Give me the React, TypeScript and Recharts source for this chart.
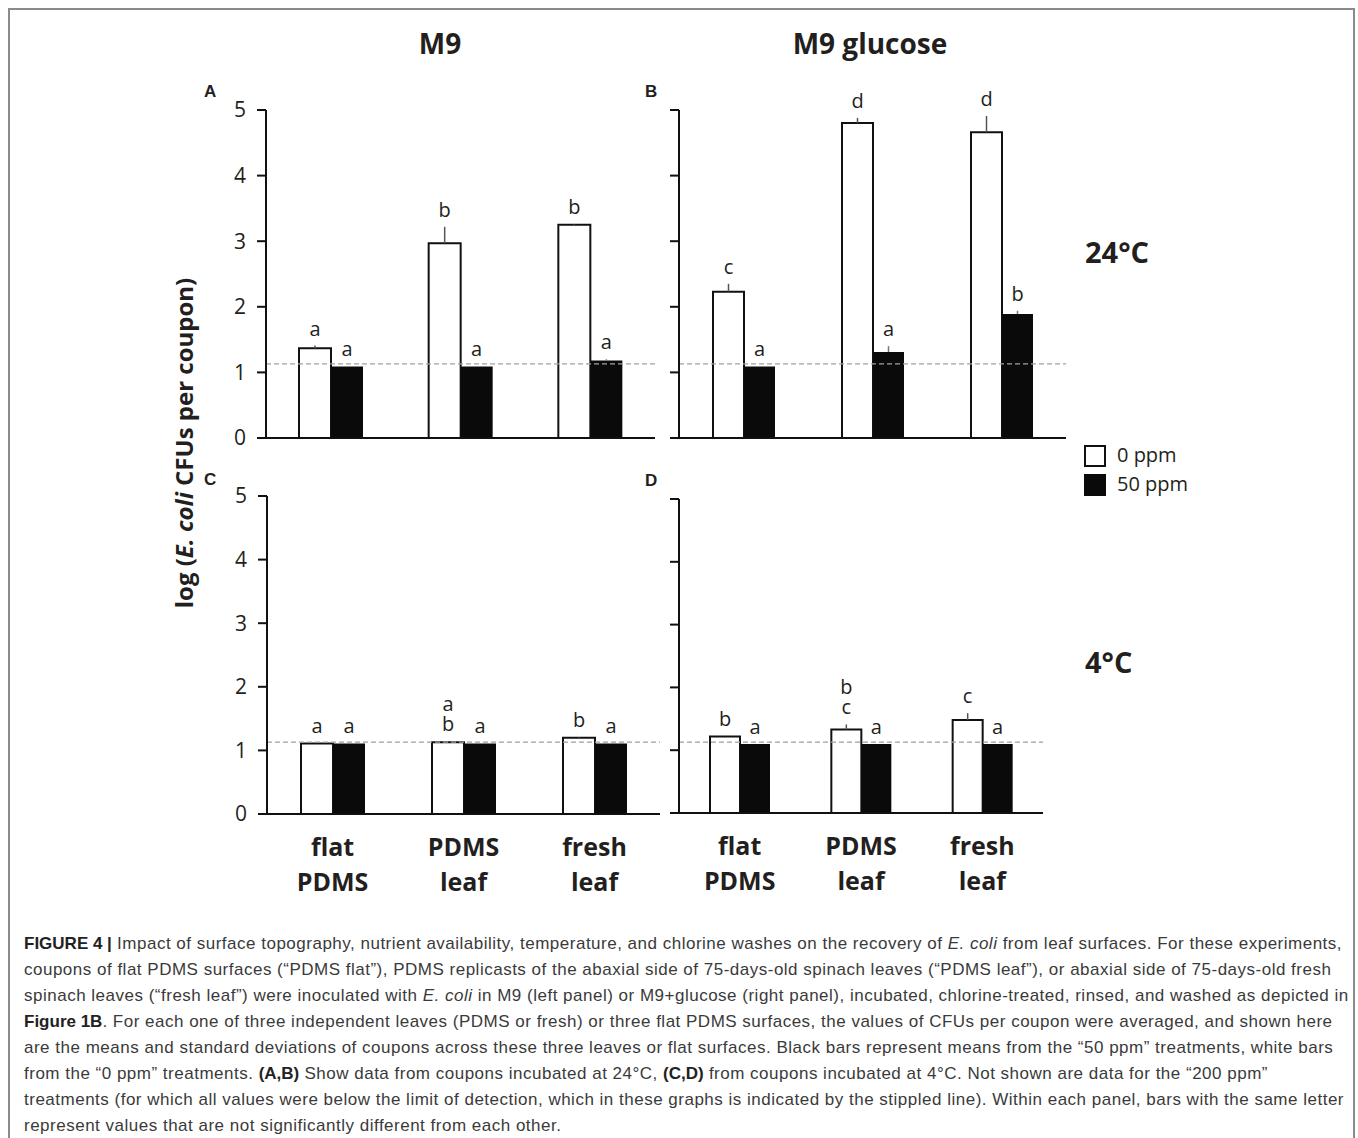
import React from 'react';
import {
  BarChart,
  Bar,
  XAxis,
  YAxis,
  ErrorBar,
  LabelList,
  ReferenceLine,
} from 'recharts';

const categories = ['flat PDMS', 'PDMS leaf', 'fresh leaf'];
const yTicks = [0, 1, 2, 3, 4, 5];
const detectionLimit = 1.13;

// A: M9, 24°C
const zeroA = [1.37, 2.97, 3.25];
const zeroAErr = [0.04, 0.25, 0.01];
const fiftyA = [1.09, 1.09, 1.18];
const fiftyAErr = [0, 0, 0.02];
const zeroALetters = ['a', 'b', 'b'];
const fiftyALetters = ['a', 'a', 'a'];

// B: M9 glucose, 24°C
const zeroB = [2.23, 4.8, 4.66];
const zeroBErr = [0.12, 0.08, 0.25];
const fiftyB = [1.09, 1.31, 1.89];
const fiftyBErr = [0, 0.09, 0.05];
const zeroBLetters = ['c', 'd', 'd'];
const fiftyBLetters = ['a', 'a', 'b'];

// C: M9, 4°C
const zeroC = [1.11, 1.13, 1.2];
const zeroCErr = [0, 0.01, 0.01];
const fiftyC = [1.11, 1.11, 1.11];
const fiftyCErr = [0, 0, 0];
const zeroCLetters = ['a', 'ab', 'b'];
const fiftyCLetters = ['a', 'a', 'a'];

// D: M9 glucose, 4°C
const zeroD = [1.22, 1.33, 1.48];
const zeroDErr = [0, 0.08, 0.11];
const fiftyD = [1.1, 1.1, 1.1];
const fiftyDErr = [0, 0, 0];
const zeroDLetters = ['b', 'bc', 'c'];
const fiftyDLetters = ['a', 'a', 'a'];

const INK = '#231f20';
const FONT = '"Open Sans", "Noto Sans", sans-serif';

function letterContent(errs: number[], pxPerUnit: number) {
  return (props: any) => {
    const { x, y, width, value, index } = props;
    if (!value) return null;
    const lines = String(value).split('');
    const err = errs[index] || 0;
    const base = Number(y) - err * pxPerUnit - 10;
    const cx = Number(x) + Number(width) / 2;
    return (
      <text textAnchor="middle" fontSize={20} fill={INK} fontFamily={FONT}>
        {lines.map((l, k) => (
          <tspan key={k} x={cx} y={base - (lines.length - 1 - k) * 20}>
            {l}
          </tspan>
        ))}
      </text>
    );
  };
}

const CategoryTick = (props: any) => {
  const { x, y, payload } = props;
  const [l1, l2] = String(payload.value).split(' ');
  return (
    <text
      textAnchor="middle"
      fontSize={25}
      fontWeight={700}
      fill={INK}
      fontFamily={FONT}
    >
      <tspan x={x} y={y + 42}>
        {l1}
      </tspan>
      <tspan x={x} y={y + 77}>
        {l2}
      </tspan>
    </text>
  );
};

interface PanelProps {
  box: { left: number; top: number; right: number; bottom: number };
  yLabels: boolean;
  xLabels: boolean;
  barSize: number;
  zero: number[];
  zeroErr: number[];
  fifty: number[];
  fiftyErr: number[];
  zeroLetters: string[];
  fiftyLetters: string[];
}

function Panel({
  box,
  yLabels,
  xLabels,
  barSize,
  zero,
  zeroErr,
  fifty,
  fiftyErr,
  zeroLetters,
  fiftyLetters,
}: PanelProps) {
  const yAxisWidth = 80;
  const topPad = 40;
  const xAxisHeight = xLabels ? 90 : 20;
  const left = box.left - yAxisWidth;
  const top = box.top - topPad;
  const width = box.right + 10 - left;
  const height = box.bottom + xAxisHeight - top;
  const pxPerUnit = (box.bottom - box.top) / 5;

  const data = categories.map((cat, i) => ({
    cat,
    zero: zero[i],
    zeroErr: [0, zeroErr[i]],
    fifty: fifty[i],
    fiftyErr: [0, fiftyErr[i]],
    zl: zeroLetters[i],
    fl: fiftyLetters[i],
  }));

  return (
    <div style={{ position: 'absolute', left, top }}>
      <BarChart
        width={width}
        height={height}
        data={data}
        barGap={0}
        margin={{ top: topPad, right: 10, left: 0, bottom: 0 }}
      >
        <XAxis
          dataKey="cat"
          height={xAxisHeight}
          interval={0}
          tickLine={false}
          tickSize={0}
          tickMargin={0}
          axisLine={{ stroke: '#111', strokeWidth: 2 }}
          tick={xLabels ? <CategoryTick /> : false}
        />
        <YAxis
          width={yAxisWidth}
          domain={[0, 5]}
          ticks={yTicks}
          interval={0}
          tickSize={9}
          tickMargin={11}
          axisLine={{ stroke: '#111', strokeWidth: 2 }}
          tickLine={{ stroke: '#111', strokeWidth: 2 }}
          tick={{ fontSize: 21, fill: INK, fontFamily: FONT }}
          tickFormatter={(v) => (yLabels ? String(v) : '')}
        />
        <Bar
          dataKey="zero"
          fill="#ffffff"
          stroke="#111"
          strokeWidth={2}
          barSize={barSize}
          isAnimationActive={false}
        >
          <ErrorBar dataKey="zeroErr" width={0} stroke="#555" strokeWidth={1.5} />
          <LabelList dataKey="zl" content={letterContent(zeroErr, pxPerUnit)} />
        </Bar>
        <Bar
          dataKey="fifty"
          fill="#0a0a0a"
          barSize={barSize}
          isAnimationActive={false}
        >
          <ErrorBar dataKey="fiftyErr" width={0} stroke="#777" strokeWidth={1.5} />
          <LabelList dataKey="fl" content={letterContent(fiftyErr, pxPerUnit)} />
        </Bar>
        <ReferenceLine
          y={detectionLimit}
          stroke="#a0a0a0"
          strokeWidth={1.3}
          strokeDasharray="5 3"
        />
      </BarChart>
    </div>
  );
}

const abs = (left: number, top: number, extra: React.CSSProperties = {}) =>
  ({ position: 'absolute', left, top, ...extra }) as React.CSSProperties;

const panelLetter: React.CSSProperties = {
  fontFamily: '"Liberation Sans", Arial, sans-serif',
  fontWeight: 700,
  fontSize: 17,
};

export default function App() {
  return (
    <div
      style={{
        position: 'relative',
        width: 1358,
        height: 1138,
        overflow: 'hidden',
        background: '#fff',
        fontFamily: FONT,
        color: INK,
      }}
    >
      <style>{`body{margin:0}`}</style>
      <div
        style={{
          position: 'absolute',
          left: 8,
          top: 8,
          width: 1347,
          height: 1150,
          border: '2px solid #8a8a8a',
          boxSizing: 'border-box',
        }}
      />

      <div style={abs(400, 24, { width: 80, textAlign: 'center', fontSize: 28, fontWeight: 700 })}>
        M9
      </div>
      <div style={abs(770, 24, { width: 200, textAlign: 'center', fontSize: 28, fontWeight: 700 })}>
        M9 glucose
      </div>

      <div style={abs(204, 82, panelLetter)}>A</div>
      <div style={abs(645, 82, panelLetter)}>B</div>
      <div style={abs(204, 470, panelLetter)}>C</div>
      <div style={abs(645, 471, panelLetter)}>D</div>

      <div
        style={abs(183, 443, {
          transform: 'translate(-50%, -50%) rotate(-90deg)',
          whiteSpace: 'nowrap',
          fontSize: 24,
          fontWeight: 700,
        })}
      >
        log (<i>E. coli</i> CFUs per coupon)
      </div>

      <Panel
        box={{ left: 266, top: 110, right: 655, bottom: 438 }}
        yLabels
        xLabels={false}
        barSize={32}
        zero={zeroA}
        zeroErr={zeroAErr}
        fifty={fiftyA}
        fiftyErr={fiftyAErr}
        zeroLetters={zeroALetters}
        fiftyLetters={fiftyALetters}
      />
      <Panel
        box={{ left: 679, top: 110, right: 1066, bottom: 438 }}
        yLabels={false}
        xLabels={false}
        barSize={31}
        zero={zeroB}
        zeroErr={zeroBErr}
        fifty={fiftyB}
        fiftyErr={fiftyBErr}
        zeroLetters={zeroBLetters}
        fiftyLetters={fiftyBLetters}
      />
      <Panel
        box={{ left: 267, top: 496, right: 660, bottom: 814 }}
        yLabels
        xLabels
        barSize={32}
        zero={zeroC}
        zeroErr={zeroCErr}
        fifty={fiftyC}
        fiftyErr={fiftyCErr}
        zeroLetters={zeroCLetters}
        fiftyLetters={fiftyCLetters}
      />
      <Panel
        box={{ left: 679, top: 499, right: 1043, bottom: 813 }}
        yLabels={false}
        xLabels
        barSize={30}
        zero={zeroD}
        zeroErr={zeroDErr}
        fifty={fiftyD}
        fiftyErr={fiftyDErr}
        zeroLetters={zeroDLetters}
        fiftyLetters={fiftyDLetters}
      />

      <div style={abs(1085, 232, { fontSize: 29, fontWeight: 700 })}>24°C</div>
      <div style={abs(1085, 642, { fontSize: 29, fontWeight: 700 })}>4°C</div>

      <div style={abs(1084, 445, { width: 22, height: 22, border: '2px solid #111', boxSizing: 'border-box', background: '#fff' })} />
      <div style={abs(1084, 474, { width: 22, height: 22, background: '#0a0a0a' })} />
      <div style={abs(1117, 441, { fontSize: 20, lineHeight: '28px' })}>0 ppm</div>
      <div style={abs(1117, 470, { fontSize: 20, lineHeight: '28px' })}>50 ppm</div>

      <div
        style={abs(24, 931, {
          fontFamily: '"Liberation Sans", Arial, sans-serif',
          fontSize: 17,
          letterSpacing: '0.5px',
          lineHeight: '26px',
          color: '#3a3a3a',
          whiteSpace: 'nowrap',
        })}
      >
        <div>
          <b style={{ color: '#222', letterSpacing: 0 }}>FIGURE 4 |</b> Impact of surface topography, nutrient availability, temperature, and chlorine washes on the recovery of <i>E. coli</i> from leaf surfaces. For these experiments,
        </div>
        <div>
          coupons of flat PDMS surfaces (“PDMS flat”), PDMS replicasts of the abaxial side of 75-days-old spinach leaves (“PDMS leaf”), or abaxial side of 75-days-old fresh
        </div>
        <div>
          spinach leaves (“fresh leaf”) were inoculated with <i>E. coli</i> in M9 (left panel) or M9+glucose (right panel), incubated, chlorine-treated, rinsed, and washed as depicted in
        </div>
        <div>
          <b style={{ color: '#222', letterSpacing: 0 }}>Figure 1B</b>. For each one of three independent leaves (PDMS or fresh) or three flat PDMS surfaces, the values of CFUs per coupon were averaged, and shown here
        </div>
        <div>
          are the means and standard deviations of coupons across these three leaves or flat surfaces. Black bars represent means from the “50 ppm” treatments, white bars
        </div>
        <div>
          from the “0 ppm” treatments. <b style={{ color: '#222', letterSpacing: 0 }}>(A,B)</b> Show data from coupons incubated at 24°C, <b style={{ color: '#222', letterSpacing: 0 }}>(C,D)</b> from coupons incubated at 4°C. Not shown are data for the “200 ppm”
        </div>
        <div>
          treatments (for which all values were below the limit of detection, which in these graphs is indicated by the stippled line). Within each panel, bars with the same letter
        </div>
        <div>represent values that are not significantly different from each other.</div>
      </div>
    </div>
  );
}
